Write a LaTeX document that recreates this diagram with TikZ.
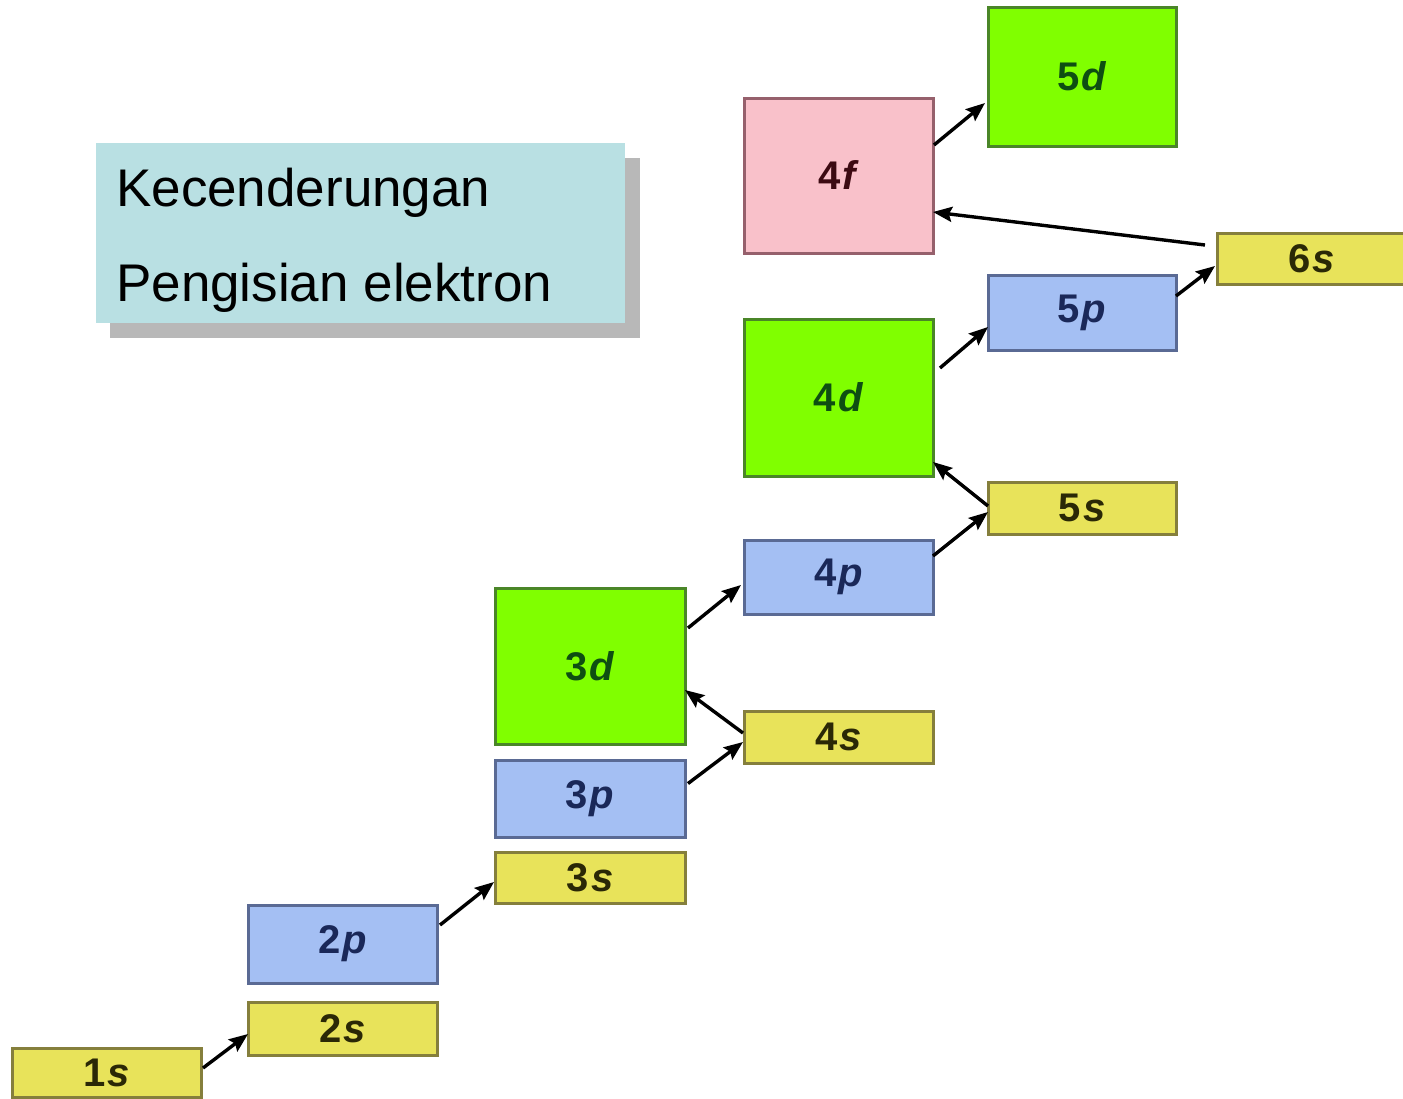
\documentclass[tikz,border=0pt]{standalone}
\usepackage{fontspec}
\setmainfont{Liberation Sans}
\usetikzlibrary{arrows.meta}

\definecolor{sfill}{HTML}{E8E35A}
\definecolor{sedge}{HTML}{857F3C}
\definecolor{stext}{HTML}{2A2806}
\definecolor{pfill}{HTML}{A4BFF3}
\definecolor{pedge}{HTML}{5A6A94}
\definecolor{ptext}{HTML}{1A2858}
\definecolor{dfill}{HTML}{80FF00}
\definecolor{dedge}{HTML}{4A8628}
\definecolor{dtext}{HTML}{0E4E12}
\definecolor{ffill}{HTML}{F9C1CA}
\definecolor{fedge}{HTML}{96606C}
\definecolor{ftext}{HTML}{3C0A12}
\definecolor{titlefill}{HTML}{B9E0E3}
\definecolor{shadowgray}{HTML}{B8B8B8}

% orbital label: upright digit, italic letter, a little space between
\newcommand{\orblabel}[2]{#1\kern2pt\textit{#2}}

\tikzset{
  orb/.style={rectangle, inner sep=0pt, outer sep=0pt, line width=3pt,
    font=\fontsize{40}{42}\selectfont\bfseries},
  sbox/.style={orb, fill=sfill, draw=sedge, text=stext},
  pbox/.style={orb, fill=pfill, draw=pedge, text=ptext},
  dbox/.style={orb, fill=dfill, draw=dedge, text=dtext},
  fbox/.style={orb, fill=ffill, draw=fedge, text=ftext},
  fill order/.style={-{Stealth[length=19pt,width=15pt,inset=3pt]}, line width=3.4pt, black},
  titletext/.style={anchor=base west, inner sep=0pt, font=\fontsize{53}{57}\selectfont}
}

\begin{document}
\begin{tikzpicture}[x=1pt,y=-1pt]
\useasboundingbox (0,0) rectangle (1403,1098);
\fill[white] (0,0) rectangle (1403,1098);

% title panel with its shadow
\fill[shadowgray] (110,158) rectangle (640,338);
\node[rectangle, fill=titlefill, inner sep=0pt, minimum width=529pt, minimum height=180pt] (title) at (360.5,233) {};
\node[titletext] (t1) at (116,206) {Kecenderungan};
\node[titletext] (t2) at (116,301) {Pengisian elektron};

% orbitals
\node[sbox, minimum width=189pt, minimum height=49pt] (1s) at (106.5,1072.5) {\orblabel{1}{s}};
\node[sbox, minimum width=189pt, minimum height=53pt] (2s) at (342.5,1028.5) {\orblabel{2}{s}};
\node[pbox, minimum width=189pt, minimum height=78pt] (2p) at (342.5,944) {\orblabel{2}{p}};
\node[sbox, minimum width=190pt, minimum height=51pt] (3s) at (590,877.5) {\orblabel{3}{s}};
\node[pbox, minimum width=190pt, minimum height=77pt] (3p) at (590,798.5) {\orblabel{3}{p}};
\node[dbox, minimum width=190pt, minimum height=156pt] (3d) at (590,666) {\orblabel{3}{d}};
\node[sbox, minimum width=189pt, minimum height=52pt] (4s) at (838.5,737) {\orblabel{4}{s}};
\node[pbox, minimum width=189pt, minimum height=74pt] (4p) at (838.5,577) {\orblabel{4}{p}};
\node[dbox, minimum width=189pt, minimum height=157pt] (4d) at (838.5,397.5) {\orblabel{4}{d}};
\node[fbox, minimum width=189pt, minimum height=155pt] (4f) at (838.5,175.5) {\orblabel{4}{f}};
\node[sbox, minimum width=188pt, minimum height=52pt] (5s) at (1082,508) {\orblabel{5}{s}};
\node[pbox, minimum width=188pt, minimum height=75pt] (5p) at (1082,312.5) {\orblabel{5}{p}};
\node[dbox, minimum width=188pt, minimum height=139pt] (5d) at (1082,76.5) {\orblabel{5}{d}};
\node[sbox, minimum width=189pt, minimum height=51pt] (6s) at (1311.5,258.5) {\orblabel{6}{s}};

% filling order
\draw[fill order] ([xshift=2pt,yshift=4.5pt]1s.east) -- ([yshift=-5.5pt]2s.west);
\draw[fill order] ([xshift=3pt,yshift=19pt]2p.east) -- ([xshift=-1pt,yshift=-4.5pt]3s.west);
\draw[fill order] ([xshift=3pt,yshift=15pt]3p.east) -- ([xshift=-1pt,yshift=-5pt]4s.west);
\draw[fill order] ([xshift=-1pt,yshift=4pt]4s.west) -- ([yshift=-24pt]3d.east);
\draw[fill order] ([xshift=3pt,yshift=38pt]3d.east) -- ([xshift=-3pt,yshift=-8pt]4p.west);
\draw[fill order] ([yshift=21pt]4p.east) -- ([yshift=-4pt]5s.west);
\draw[fill order] ([yshift=2pt]5s.west) -- ([yshift=-64.5pt]4d.east);
\draw[fill order] ([xshift=7pt,yshift=29.5pt]4d.east) -- ([yshift=-14.5pt]5p.west);
\draw[fill order] ([yshift=16.5pt]5p.east) -- ([xshift=-2pt,yshift=-7.5pt]6s.west);
\draw[fill order] ([xshift=-12pt,yshift=13.5pt]6s.west) -- ([yshift=-36.5pt]4f.east);
\draw[fill order] ([xshift=1pt,yshift=30.5pt]4f.east) -- ([xshift=-3pt,yshift=-26.5pt]5d.west);
\end{tikzpicture}
\end{document}
